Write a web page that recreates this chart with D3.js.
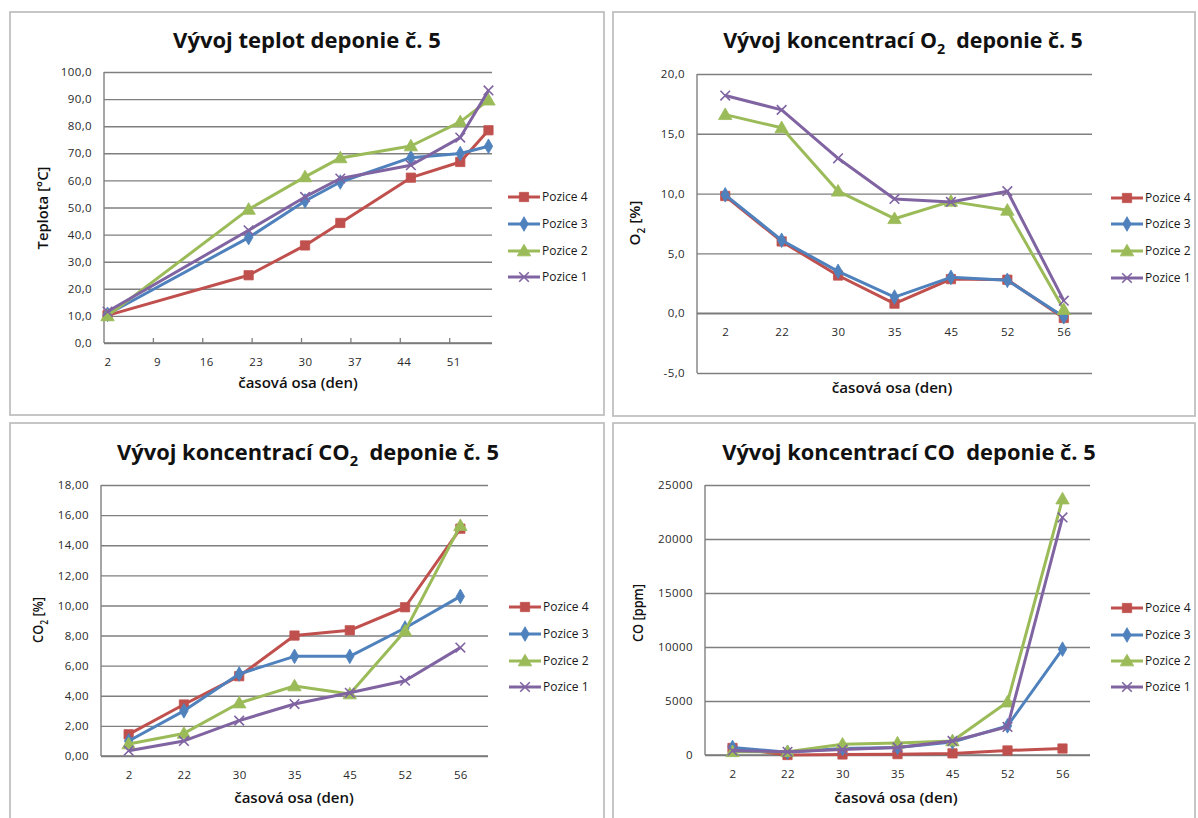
<!DOCTYPE html>
<html>
<head>
<meta charset="utf-8">
<script src="https://cdn.jsdelivr.net/npm/d3@7"></script>
<style>
  body { margin: 0; background: #fff; }
  svg text { font-family: "Open Sans", "DejaVu Sans", sans-serif; white-space: pre; }
</style>
</head>
<body>
<svg id="chart" width="1198" height="818"></svg>
<script>
// ---------------- DATA ----------------
const seriesNames = ["Pozice 4", "Pozice 3", "Pozice 2", "Pozice 1"];
const seriesColors = ["#C0504D", "#4F81BD", "#9BBB59", "#8064A2"];

// Temperature chart uses a day (date-like) axis
const days = [2, 22, 30, 35, 45, 52, 56];
const dayTickLabels = [2, 9, 16, 23, 30, 37, 44, 51];
const teplotaP4 = [10.2, 25.0, 36.0, 44.3, 61.0, 66.8, 78.5];
const teplotaP3 = [10.6, 38.9, 52.4, 59.4, 68.4, 69.9, 72.6];
const teplotaP2 = [10.0, 49.3, 61.3, 68.3, 72.7, 81.6, 89.6];
const teplotaP1 = [11.6, 41.6, 53.9, 60.7, 65.6, 75.8, 93.2];
const teplotaTicks = [0, 10, 20, 30, 40, 50, 60, 70, 80, 90, 100];

// Other charts use a category axis
const categories = ["2", "22", "30", "35", "45", "52", "56"];

const o2P4 = [9.8, 6.0, 3.15, 0.8, 2.85, 2.8, -0.4];
const o2P3 = [9.9, 6.1, 3.5, 1.35, 3.0, 2.75, -0.3];
const o2P2 = [16.6, 15.5, 10.2, 7.9, 9.35, 8.6, 0.3];
const o2P1 = [18.2, 17.0, 12.95, 9.55, 9.3, 10.2, 1.05];
const o2Ticks = [-5, 0, 5, 10, 15, 20];

const co2P4 = [1.44, 3.42, 5.3, 8.0, 8.35, 9.88, 15.1];
const co2P3 = [1.0, 3.0, 5.45, 6.62, 6.62, 8.5, 10.6];
const co2P2 = [0.8, 1.5, 3.52, 4.65, 4.12, 8.3, 15.3];
const co2P1 = [0.35, 1.0, 2.35, 3.45, 4.2, 5.0, 7.2];
const co2Ticks = [0, 2, 4, 6, 8, 10, 12, 14, 16, 18];

const coP4 = [650, 0, 50, 80, 150, 420, 600];
const coP3 = [700, 250, 600, 700, 1200, 2700, 9800];
const coP2 = [300, 300, 1000, 1100, 1300, 4900, 23700];
const coP1 = [400, 300, 500, 700, 1300, 2600, 22000];
const coTicks = [0, 5000, 10000, 15000, 20000, 25000];

// ---------------- DRAWING ----------------
const svg = d3.select("#chart");
const fmt1 = v => d3.format(".1f")(v).replace(".", ",").replace("−", "-");
const fmt2 = v => d3.format(".2f")(v).replace(".", ",");
const fmt0 = v => String(v);

function fitWidth(textSel, W, ax, ay) {
  const w = textSel.node().getBBox().width;
  if (w > 0) {
    const s = W / w;
    textSel.attr("transform", `translate(${ax},${ay}) scale(${s},1) translate(${-ax},${-ay})`);
  }
}

function addParts(textSel, parts, subSize) {
  parts.forEach(p => {
    if (p.sub) {
      textSel.append("tspan").attr("font-size", subSize).attr("dy", subSize * 0.45).text(p.t);
    } else {
      const t = textSel.append("tspan").text(p.t);
      if (p.after) t.attr("dy", -subSize * 0.45);
    }
  });
}

function drawMarker(g, i, x, y, color) {
  if (i === 0) {
    g.append("path").attr("d", d3.symbol(d3.symbolSquare, 86)()).attr("transform", `translate(${x},${y})`)
      .attr("fill", color).attr("stroke", color).attr("stroke-width", 0.8);
  } else if (i === 1) {
    g.append("path").attr("d", d3.symbol(d3.symbolDiamond, 62)()).attr("transform", `translate(${x},${y})`)
      .attr("fill", color).attr("stroke", color).attr("stroke-width", 0.8);
  } else if (i === 2) {
    g.append("path").attr("d", d3.symbol(d3.symbolTriangle, 78)()).attr("transform", `translate(${x},${y + 1})`)
      .attr("fill", color).attr("stroke", color).attr("stroke-width", 0.8);
  } else {
    g.append("path").attr("d", "M-4.8,-4.8L4.8,4.8M-4.8,4.8L4.8,-4.8").attr("transform", `translate(${x},${y})`)
      .attr("fill", "none").attr("stroke", color).attr("stroke-width", 1.6);
  }
}

function drawPanel(cfg) {
  const g = svg.append("g");
  g.append("rect").attr("x", cfg.frame[0]).attr("y", cfg.frame[1])
    .attr("width", cfg.frame[2] - cfg.frame[0]).attr("height", cfg.frame[3] - cfg.frame[1])
    .attr("fill", "#fff").attr("stroke", "#c0c0c0").attr("stroke-width", 1.8);

  const [px0, py0, px1, py1] = cfg.plot;
  const y = d3.scaleLinear().domain(cfg.yDomain).range([py1, py0]);
  let x;
  if (cfg.dayAxis) {
    x = d3.scaleLinear().domain([1.5, 56.5]).range([px0, px1]);
  } else {
    x = d3.scalePoint().domain(categories).range([px0, px1]).padding(0.5);
  }

  const yAxis = d3.axisLeft(y).tickValues(cfg.yTicks).tickSize(-(px1 - px0)).tickPadding(12).tickFormat(cfg.yFormat);
  const ya = g.append("g").attr("transform", `translate(${px0},0)`).call(yAxis);
  ya.select(".domain").attr("stroke", "#808080").attr("stroke-width", 1.4);
  ya.selectAll(".tick line").attr("stroke", "#7f7f7f").attr("stroke-width", 1.4);
  ya.selectAll(".tick text").attr("font-size", 11.5).attr("fill", "#2a2a2a").attr("letter-spacing", 0.4)
    .attr("font-family", '"Open Sans", sans-serif');
  ya.select(".domain").attr("d", `M0,${py0}V${py1}`);

  const y0 = y(0);
  if (cfg.dayAxis) {
    const xAxis = d3.axisBottom(x).tickValues(dayTickLabels).tickSize(0).tickPadding(15).tickFormat(d => d);
    const xa = g.append("g").attr("transform", `translate(0,${y0})`).call(xAxis);
    xa.select(".domain").remove();
    xa.selectAll(".tick text").attr("font-size", 11.5).attr("fill", "#2a2a2a").attr("letter-spacing", 0.4);
    const tickPos = dayTickLabels.slice(1).map(d => d - 0.5);
    g.selectAll(null).data(tickPos).enter().append("line")
      .attr("x1", d => x(d)).attr("x2", d => x(d)).attr("y1", y0).attr("y2", y0 - 5)
      .attr("stroke", "#808080").attr("stroke-width", 1.3);
  } else {
    const xAxis = d3.axisBottom(x).tickSize(0).tickPadding(15);
    const xa = g.append("g").attr("transform", `translate(0,${y0})`).call(xAxis);
    xa.select(".domain").remove();
    xa.selectAll(".tick text").attr("font-size", 11.5).attr("fill", "#2a2a2a").attr("letter-spacing", 0.4);
  }
  g.append("line").attr("x1", px0).attr("x2", px1).attr("y1", y0).attr("y2", y0)
    .attr("stroke", "#7a7a7a").attr("stroke-width", 1.5);

  const xs = cfg.dayAxis ? days.map(d => x(d)) : categories.map(c => x(c));
  cfg.series.forEach((vals, i) => {
    const pts = vals.map((v, j) => [xs[j], y(v)]);
    g.append("path").attr("d", d3.line()(pts)).attr("fill", "none")
      .attr("stroke", seriesColors[i]).attr("stroke-width", 3).attr("stroke-linejoin", "round");
    pts.forEach(p => drawMarker(g, i, p[0], p[1], seriesColors[i]));
  });

  seriesNames.forEach((name, i) => {
    const ly = cfg.legendY[i];
    const lx = cfg.legendX;
    g.append("line").attr("x1", lx).attr("x2", lx + 32).attr("y1", ly).attr("y2", ly)
      .attr("stroke", seriesColors[i]).attr("stroke-width", 3);
    drawMarker(g, i, lx + 16, ly, seriesColors[i]);
    g.append("text").attr("x", lx + 34).attr("y", ly).attr("dy", "0.35em")
      .attr("font-size", 12).attr("fill", "#1a1a1a").text(name);
  });

  const tt = g.append("text").attr("x", cfg.titleX).attr("y", cfg.titleY).attr("text-anchor", "middle")
    .attr("font-size", 21).attr("font-weight", 700).attr("fill", "#111");
  addParts(tt, cfg.title, 14);
  fitWidth(tt, cfg.titleW, cfg.titleX, cfg.titleY);

  const xt = g.append("text").attr("x", cfg.xTitle[0]).attr("y", cfg.xTitle[1]).attr("text-anchor", "middle")
    .attr("font-size", 15).attr("font-weight", 600).attr("fill", "#111").text("časová osa (den)");
  fitWidth(xt, cfg.xTitle[2], cfg.xTitle[0], cfg.xTitle[1]);

  const yg = g.append("g").attr("transform", `translate(${cfg.yTitle[0]},${cfg.yTitle[1]}) rotate(-90)`);
  const yt = yg.append("text").attr("x", 0).attr("y", 0).attr("dy", "0.35em").attr("text-anchor", "middle")
    .attr("font-size", 15).attr("font-weight", 600).attr("fill", "#111");
  addParts(yt, cfg.yTitleParts, 10);
  fitWidth(yt, cfg.yTitle[2], 0, 0);
}

drawPanel({
  frame: [10, 12, 604, 415],
  plot: [104, 72, 492, 343],
  yDomain: [0, 100], yTicks: teplotaTicks, yFormat: fmt1,
  dayAxis: true,
  series: [teplotaP4, teplotaP3, teplotaP2, teplotaP1],
  legendX: 508, legendY: [197, 224, 251, 277],
  title: [{ t: "Vývoj teplot deponie č. 5" }], titleX: 307, titleY: 48, titleW: 268,
  xTitle: [298, 388, 120],
  yTitle: [43, 208, 83], yTitleParts: [{ t: "Teplota [°C]" }]
});

drawPanel({
  frame: [613, 12, 1195, 416],
  plot: [697, 74, 1092, 373],
  yDomain: [-5, 20], yTicks: o2Ticks, yFormat: fmt1,
  dayAxis: false,
  series: [o2P4, o2P3, o2P2, o2P1],
  legendX: 1111, legendY: [198, 224, 251, 278],
  title: [{ t: "Vývoj koncentrací O" }, { t: "2", sub: true }, { t: "  deponie č. 5", after: true }],
  titleX: 903, titleY: 48, titleW: 360,
  xTitle: [892, 393, 121],
  yTitle: [635, 223, 45], yTitleParts: [{ t: "O" }, { t: "2", sub: true }, { t: " [%]", after: true }]
});

drawPanel({
  frame: [10, 423, 604, 830],
  plot: [101, 485, 488, 756],
  yDomain: [0, 18], yTicks: co2Ticks, yFormat: fmt2,
  dayAxis: false,
  series: [co2P4, co2P3, co2P2, co2P1],
  legendX: 509, legendY: [607, 634, 661, 687],
  title: [{ t: "Vývoj koncentrací CO" }, { t: "2", sub: true }, { t: "  deponie č. 5", after: true }],
  titleX: 308, titleY: 460, titleW: 382,
  xTitle: [294, 803, 120],
  yTitle: [38, 620, 46], yTitleParts: [{ t: "CO" }, { t: "2", sub: true }, { t: " [%]", after: true }]
});

drawPanel({
  frame: [613, 423, 1195, 830],
  plot: [705, 485, 1090, 755],
  yDomain: [0, 25000], yTicks: coTicks, yFormat: fmt0,
  dayAxis: false,
  series: [coP4, coP3, coP2, coP1],
  legendX: 1111, legendY: [608, 635, 661, 687],
  title: [{ t: "Vývoj koncentrací CO  deponie č. 5" }], titleX: 909, titleY: 460, titleW: 374,
  xTitle: [896, 803, 124],
  yTitle: [638, 613, 58], yTitleParts: [{ t: "CO [ppm]" }]
});
</script>
</body>
</html>
